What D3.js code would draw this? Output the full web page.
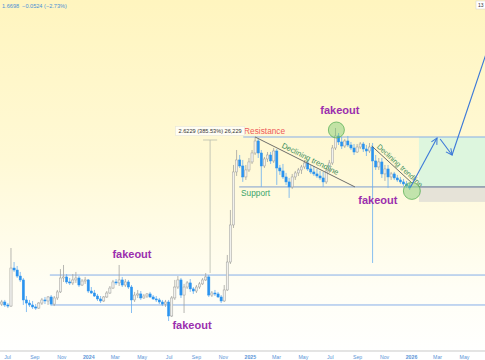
<!DOCTYPE html>
<html><head><meta charset="utf-8">
<script src="https://cdn.jsdelivr.net/npm/d3@7"></script>
<style>html,body{margin:0;padding:0;background:#fff}svg{display:block;font-family:"Liberation Sans",Arial,sans-serif}</style>
</head><body><svg id="c" width="485" height="360"></svg>
<script>
// ---------- data ----------
const firstWeek = "2023-06-19";
const open = [.484,.496,.479,.473,.738,.721,.672,.642,.508,.490,
.479,.468,.462,.490,.508,.502,.526,.484,.520,.558,
.657,.665,.627,.620,.642,.657,.605,.634,.642,.564,
.551,.532,.514,.502,.526,.551,.584,.627,.620,.642,
.605,.627,.591,.508,.538,.545,.520,.532,.545,.526,
.514,.508,.496,.484,.496,.421,.520,.591,.642,.538,
.591,.620,.578,.564,.591,.613,.642,.665,.538,.551,
.545,.526,.502,.571,.792,1.222,2.272,2.614,2.437,2.143,
2.326,2.554,2.837,3.265,2.837,2.437,2.645,2.771,2.584,2.904,
2.381,2.299,2.143,2.022,1.907,2.143,2.246,2.326,2.409,2.524,
2.353,2.272,2.220,2.168,2.118,2.022,2.299,2.524,3.008,3.461,
3.227,3.079,3.265,3.115,3.008,2.870,3.043,3.152,2.973,2.904,
3.043,2.584,2.409,2.554,2.220,2.353,2.143,2.220,2.118,2.069,
2.022,1.975,1.929];
const high = [.508,.508,.490,.933,.792,.756,.705,.657,.532,.508,
.502,.484,.496,.520,.526,.532,.538,.532,.571,.729,
.765,.688,.657,.688,.705,.672,.649,.665,.649,.591,
.571,.545,.532,.532,.564,.598,.642,.649,.765,.665,
.649,.642,.605,.558,.571,.564,.545,.551,.558,.538,
.532,.520,.508,.508,.508,.532,.642,.672,.657,.613,
.634,.649,.591,.605,.627,.657,.696,.680,.564,.571,
.558,.538,.605,.860,1.456,2.466,2.938,2.771,2.614,2.466,
2.676,2.938,3.421,3.342,2.938,2.707,2.870,2.870,3.008,2.973,
2.466,2.495,2.246,2.118,2.220,2.299,2.381,2.466,2.614,2.614,
2.466,2.437,2.353,2.299,2.272,2.381,2.614,3.115,3.801,3.585,
3.421,3.342,3.461,3.227,3.152,3.152,3.227,3.227,3.115,3.189,
3.189,2.771,2.676,2.676,2.466,2.466,2.272,2.272,2.194,2.143,
2.094,2.045,1.998];
const low = [.473,.468,.462,.468,.705,.657,.627,.479,.441,.468,
.457,.452,.457,.479,.484,.479,.473,.473,.508,.551,
.627,.613,.605,.605,.620,.591,.598,.613,.551,.545,
.526,.502,.490,.496,.520,.545,.578,.605,.598,.591,
.591,.578,.436,.496,.520,.508,.514,.520,.520,.508,
.496,.484,.473,.468,.397,.416,.508,.578,.520,.436,
.578,.558,.545,.551,.578,.605,.634,.526,.526,.532,
.520,.490,.496,.564,.774,1.180,2.168,2.381,2.022,2.069,
2.272,2.495,2.771,2.676,1.907,2.381,2.554,2.495,2.524,1.952,
2.194,2.094,1.952,1.677,1.863,2.069,2.168,2.220,2.353,2.299,
2.220,2.168,2.118,2.069,1.907,1.975,2.246,2.466,2.938,3.115,
2.973,3.008,3.043,2.938,2.771,2.837,2.973,2.870,2.739,2.837,
.783,2.326,2.326,2.118,2.045,1.885,2.069,2.069,2.022,1.975,
1.929,1.885,1.841];
const close = [.496,.479,.473,.738,.721,.672,.642,.508,.490,.479,
.468,.462,.490,.508,.502,.526,.484,.520,.558,.657,
.665,.627,.620,.642,.657,.605,.634,.642,.564,.551,
.532,.514,.502,.526,.551,.584,.627,.620,.642,.605,
.627,.591,.508,.538,.545,.520,.532,.545,.526,.514,
.508,.496,.484,.496,.421,.520,.591,.642,.538,.591,
.620,.578,.564,.591,.613,.642,.665,.538,.551,.545,
.526,.502,.571,.792,1.222,2.272,2.614,2.437,2.143,2.326,
2.554,2.837,3.265,2.837,2.437,2.645,2.771,2.584,2.904,2.381,
2.299,2.143,2.022,1.907,2.143,2.246,2.326,2.409,2.524,2.353,
2.272,2.220,2.168,2.118,2.022,2.299,2.524,3.008,3.461,3.227,
3.079,3.265,3.115,3.008,2.870,3.043,3.152,2.973,2.904,3.043,
2.584,2.409,2.554,2.220,2.353,2.143,2.220,2.118,2.069,2.022,
1.975,1.929,1.885];

const tickDates = ["2023-07-01","2023-09-01","2023-11-01","2024-01-01","2024-03-01","2024-05-01","2024-07-01","2024-09-01","2024-11-01","2025-01-01","2025-03-01","2025-05-01","2025-07-01","2025-09-01","2025-11-01","2026-01-01","2026-03-01","2026-05-01"];
const tickLabels = ["Jul","Sep","Nov","2024","Mar","May","Jul","Sep","Nov","2025","Mar","May","Jul","Sep","Nov","2026","Mar","May"];

// levels and annotation anchors [date, price]
const rangeTop = 0.680, rangeBottom = 0.479, resistance = 3.421, support = 1.907, zoneFloor = 1.60;
const rangeTopStart = "2023-10-06", rangeBottomStart = "2023-10-11";
const resistanceStart = "2024-12-17", supportStart = "2024-12-08", zoneStart = "2026-01-19";
const trend1 = [["2025-01-13",3.421],["2025-08-27",1.907]];
const trend2 = [["2025-10-04",3.079],["2026-01-03",1.998]];
const circles = [["2025-07-16",3.713,8],["2026-01-03",1.82,8.5]];
const projection = [
  [["2025-12-31",1.907],["2026-03-01",3.381]],
  [["2026-03-08",3.342],["2026-04-04",2.771]],
  [["2026-04-04",2.771],["2026-06-23",9.48]]
];
const fakeouts = [["2025-07-24",4.478],["2025-10-18",1.562],["2024-04-09",0.830],["2024-08-23",0.3616]];
const measure = {date:"2024-10-03", from:0.696, to:3.303, tickFrom:"2024-09-17", tickTo:"2024-10-19", labelPrice:3.585,
  text:"2.6229 (385.53%) 26,229"};
const resistanceLabel = ["2024-12-19",3.543], supportLabel = ["2024-12-12",1.715];
const header = ["1.6698", "\u22120.0524 (\u22122.73%)"];

// ---------- chart ----------
const W = 485, H = 360, axisY = 351;
const P = d3.timeParse("%Y-%m-%d");
const svg = d3.select("#c");
const x = d3.scaleTime().domain([P("2023-07-01"), P("2026-01-01")]).range([7, 411]);
const y = d3.scaleLog().domain([0.2795, 17.0]).range([axisY, 0]);

const defs = svg.append("defs");
const g = defs.append("linearGradient").attr("id","bg").attr("x1",0).attr("y1",0).attr("x2",0).attr("y2",1);
g.append("stop").attr("offset","0%").attr("stop-color","#fff5bf");
g.append("stop").attr("offset","45%").attr("stop-color","#fff9d6");
g.append("stop").attr("offset","80%").attr("stop-color","#fffef5");
g.append("stop").attr("offset","100%").attr("stop-color","#ffffff");
const mk = (id, col) => defs.append("marker").attr("id",id).attr("viewBox","0 0 10 10").attr("refX",9).attr("refY",5)
  .attr("markerWidth",7).attr("markerHeight",7).attr("orient","auto-start-reverse")
  .append("path").attr("d","M1,1 L9,5 L1,9").attr("fill","none").attr("stroke",col).attr("stroke-width",1.3);
mk("arr","#3b78d8");

svg.append("rect").attr("width",W).attr("height",H).attr("fill","url(#bg)");

const start = P(firstWeek);
const candles = open.map((o,i)=>({d:d3.timeWeek.offset(start,i), o, h:high[i], l:low[i], c:close[i]}));

// zones
const zx = x(P(zoneStart));
svg.append("rect").attr("x",zx).attr("width",W-zx).attr("y",y(resistance)).attr("height",y(support)-y(resistance)).attr("fill","#d9f5df").attr("opacity",0.9);
svg.append("rect").attr("x",zx).attr("width",W-zx).attr("y",y(support)).attr("height",y(zoneFloor)-y(support)).attr("fill","#e6e3d8");

// horizontal levels
const lvl = (d0, p, col) => svg.append("line").attr("x1",x(P(d0))).attr("x2",W).attr("y1",y(p)).attr("y2",y(p))
  .attr("stroke",col).attr("stroke-width",1);
lvl(rangeTopStart, rangeTop, "#86aee8");
lvl(rangeBottomStart, rangeBottom, "#86aee8");
lvl(resistanceStart, resistance, "#86aee8");
lvl(supportStart, support, "#7f9fd0");
svg.append("line").attr("x1",zx).attr("x2",W).attr("y1",y(support)).attr("y2",y(support)).attr("stroke","#8a8f98").attr("stroke-width",1);

// measure tool
const mx = x(P(measure.date));
svg.append("line").attr("x1",mx).attr("x2",mx).attr("y1",y(measure.to)).attr("y2",y(measure.from)).attr("stroke","#b9bcae").attr("stroke-width",0.8);
svg.append("line").attr("x1",x(P(measure.tickFrom))).attr("x2",x(P(measure.tickTo))).attr("y1",y(measure.to)).attr("y2",y(measure.to)).attr("stroke","#b9bcae").attr("stroke-width",0.8);

// candles
const bw = 2.2;
const cg = svg.append("g");
candles.forEach(k=>{
  const cx = x(k.d), up = k.c >= k.o;
  cg.append("line").attr("x1",cx).attr("x2",cx).attr("y1",y(k.h)).attr("y2",y(k.l))
    .attr("stroke", up ? "#a3a3a0" : "#6aaef0").attr("stroke-width",0.8);
  const top = Math.min(y(k.o),y(k.c)), hh = Math.max(1, Math.abs(y(k.o)-y(k.c)));
  cg.append("rect").attr("x",cx-bw/2).attr("y",top).attr("width",bw).attr("height",hh)
    .attr("fill", up ? "#f1f1ee" : "#2a93ef").attr("stroke", up ? "#9d9d9a" : "#2a93ef").attr("stroke-width",0.5);
});

// trendlines with labels
function trend(t, frac, off, fs){
  const x1=x(P(t[0][0])), y1=y(t[0][1]), x2=x(P(t[1][0])), y2=y(t[1][1]);
  svg.append("line").attr("x1",x1).attr("y1",y1).attr("x2",x2).attr("y2",y2).attr("stroke","#5d5d5d").attr("stroke-width",0.9);
  const a = Math.atan2(y2-y1, x2-x1), deg = a*180/Math.PI;
  const px = x1+(x2-x1)*frac + Math.sin(a)*off, py = y1+(y2-y1)*frac - Math.cos(a)*off;
  svg.append("text").attr("x",px).attr("y",py).attr("transform",`rotate(${deg},${px},${py})`)
    .attr("font-size",fs).attr("fill","#3f8f5c").text("Declining trendline");
}
trend(trend1, 0.25, 2.5, 7.6);
trend(trend2, 0.08, 2.2, 7.2);

// circles
circles.forEach(c=>svg.append("circle").attr("cx",x(P(c[0]))).attr("cy",y(c[1])).attr("r",c[2])
  .attr("fill","rgba(120,200,110,0.45)").attr("stroke","#5fb25a").attr("stroke-width",0.8));

// projection
projection.forEach((s,i)=>svg.append("line").attr("x1",x(P(s[0][0]))).attr("y1",y(s[0][1])).attr("x2",x(P(s[1][0]))).attr("y2",y(s[1][1]))
  .attr("stroke","#3b78d8").attr("stroke-width",1.1).attr("marker-end", i<2 ? "url(#arr)" : null));

// labels
fakeouts.forEach(f=>svg.append("text").attr("x",x(P(f[0]))).attr("y",y(f[1])).attr("text-anchor","middle")
  .attr("font-size",11).attr("font-weight","bold").attr("fill","#9b2fae").text("fakeout"));
svg.append("text").attr("x",x(P(resistanceLabel[0]))).attr("y",y(resistanceLabel[1])).attr("font-size",8.3).attr("fill","#ee5a5a").text("Resistance");
svg.append("text").attr("x",x(P(supportLabel[0]))).attr("y",y(supportLabel[1])).attr("font-size",8.3).attr("fill","#3aa56a").text("Support");

const mt = svg.append("text").attr("x",mx).attr("y",y(measure.labelPrice)).attr("text-anchor","middle").attr("font-size",5.6).attr("fill","#333").text(measure.text);
const bb = mt.node().getBBox();
svg.insert("rect", () => mt.node()).attr("x",bb.x-3).attr("y",bb.y-1.5).attr("width",bb.width+6).attr("height",bb.height+3)
  .attr("fill","rgba(255,255,255,0.75)").attr("stroke","#e2e2da").attr("stroke-width",0.5);

// header
const ht = svg.append("text").attr("x",2).attr("y",8).attr("font-size",5.6).attr("fill","#4a8fd6");
ht.append("tspan").text(header[0]);
ht.append("tspan").attr("dx",3).text(header[1]);
svg.append("rect").attr("x",476).attr("y",1).attr("width",12).attr("height",8).attr("fill","#fff").attr("stroke","#d0d0d0").attr("stroke-width",0.5);
svg.append("text").attr("x",478).attr("y",7).attr("font-size",5).attr("fill","#333").text("13");

// axis
svg.append("rect").attr("x",0).attr("y",axisY).attr("width",W).attr("height",H-axisY).attr("fill","#fff");
svg.append("line").attr("x1",0).attr("x2",W).attr("y1",axisY).attr("y2",axisY).attr("stroke","#c9c9c9").attr("stroke-width",1);
const ax = svg.append("g").attr("transform",`translate(0,${axisY+1})`)
  .call(d3.axisBottom(x).tickValues(tickDates.map(P)).tickFormat((d,i)=>tickLabels[i]).tickSize(0).tickPadding(3));
ax.select(".domain").remove();
ax.selectAll("text").attr("font-size",5.2).attr("fill","#5b95d8").attr("font-family","Liberation Sans, Arial, sans-serif")
  .attr("font-weight",(d,i)=>/^\d/.test(tickLabels[i])?"bold":"normal");
</script></body></html>
